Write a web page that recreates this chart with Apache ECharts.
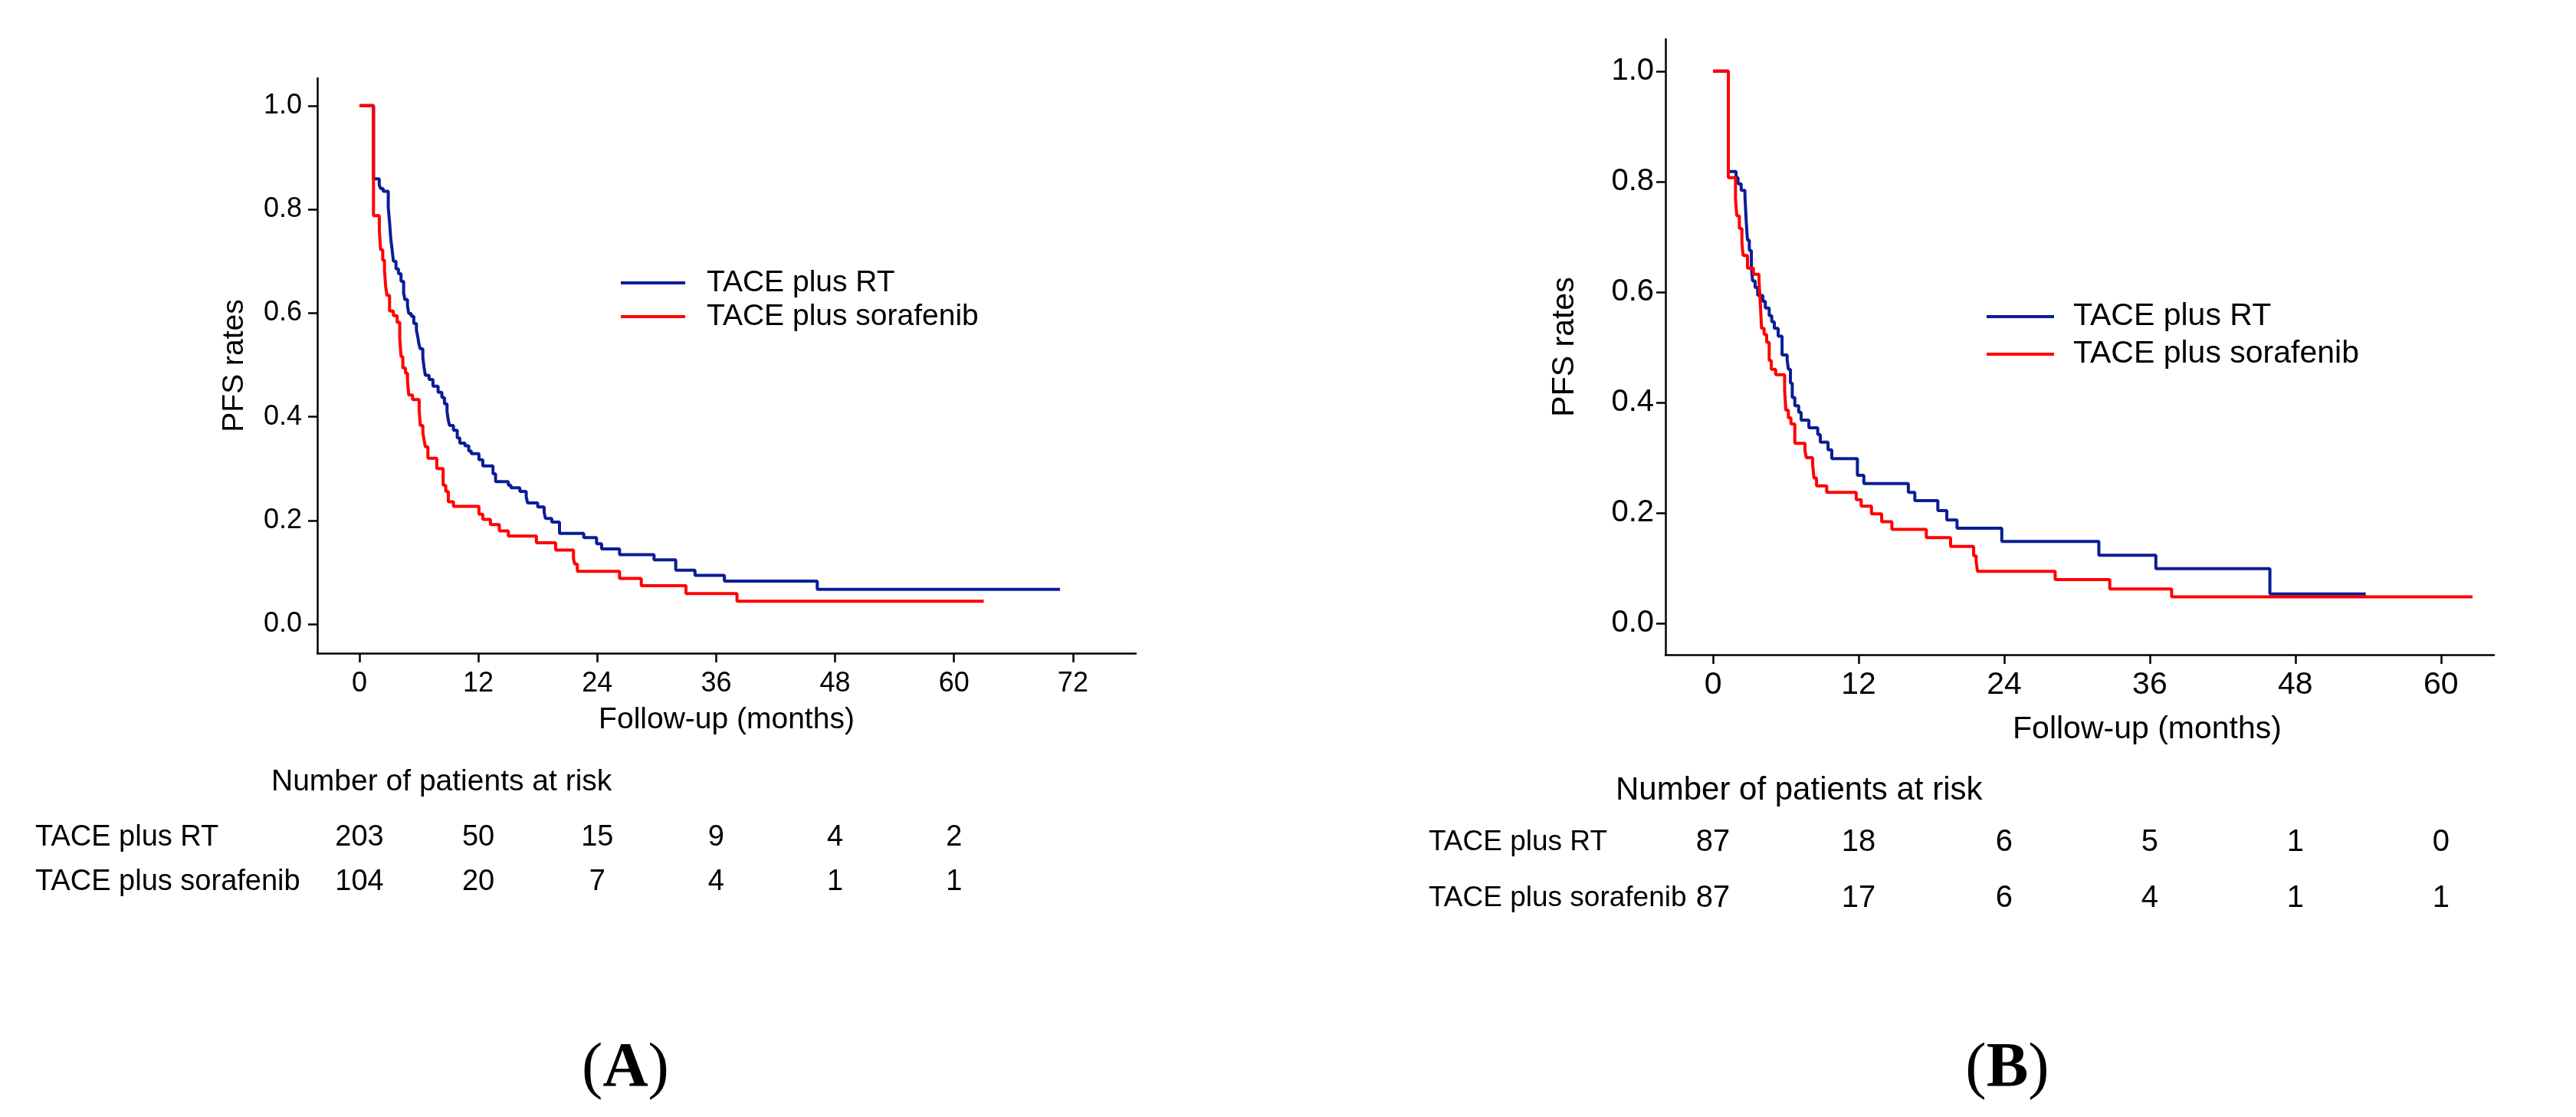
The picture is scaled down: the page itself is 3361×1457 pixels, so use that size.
<!DOCTYPE html>
<html><head><meta charset="utf-8">
<script src="https://cdn.jsdelivr.net/npm/echarts@6/dist/echarts.min.js"></script>
<style>html,body{margin:0;padding:0;background:#fff}#c{width:3361px;height:1457px}</style>
</head><body><div id="c"></div>
<script>
const seriesNames = ['TACE plus RT', 'TACE plus sorafenib'];
const xTicksA = [0, 12, 24, 36, 48, 60, 72];
const xTicksB = [0, 12, 24, 36, 48, 60];
const yTicks = [0, 0.2, 0.4, 0.6, 0.8, 1.0];

// Panel A: TACE plus RT
const aRtTime = [0, 1.42, 2.0, 2.15, 2.4, 2.91, 3.04, 3.17, 3.3, 3.43, 3.69, 3.94, 4.2, 4.46, 4.59, 4.85, 4.98, 5.23, 5.49, 5.75, 5.88, 6.01, 6.14, 6.4, 6.52, 6.65, 7.03, 7.42, 7.94, 8.32, 8.58, 8.84, 8.97, 9.1, 9.49, 9.87, 10.13, 10.65, 11.03, 11.29, 12.06, 12.45, 13.48, 13.74, 15.03, 15.29, 16.19, 16.83, 16.96, 17.99, 18.64, 18.77, 19.41, 20.19, 22.64, 23.93, 24.44, 26.25, 29.73, 31.92, 33.86, 36.83, 46.2, 70.7];
const aRtSurv = [1.0, 0.859, 0.847, 0.840, 0.835, 0.803, 0.776, 0.742, 0.722, 0.700, 0.685, 0.676, 0.661, 0.639, 0.626, 0.614, 0.599, 0.594, 0.580, 0.567, 0.555, 0.540, 0.531, 0.514, 0.496, 0.480, 0.472, 0.459, 0.447, 0.437, 0.425, 0.410, 0.393, 0.383, 0.374, 0.359, 0.349, 0.344, 0.334, 0.329, 0.317, 0.305, 0.290, 0.275, 0.268, 0.263, 0.256, 0.246, 0.234, 0.226, 0.216, 0.204, 0.197, 0.175, 0.167, 0.155, 0.145, 0.134, 0.124, 0.104, 0.094, 0.083, 0.067, 0.067];
// Panel A: TACE plus sorafenib
const aSorTime = [0, 1.42, 2.01, 2.14, 2.35, 2.53, 2.65, 2.78, 3.04, 3.43, 3.81, 4.07, 4.2, 4.38, 4.65, 4.85, 4.98, 5.36, 6.03, 6.14, 6.4, 6.52, 6.65, 6.91, 7.81, 8.45, 8.71, 8.97, 9.49, 12.06, 12.45, 13.22, 14.12, 15.03, 17.86, 19.8, 21.6, 21.73, 21.99, 26.25, 28.44, 32.95, 38.1, 63.0];
const aSorSurv = [1.0, 0.788, 0.759, 0.722, 0.702, 0.683, 0.651, 0.634, 0.604, 0.595, 0.582, 0.551, 0.516, 0.494, 0.484, 0.469, 0.442, 0.433, 0.413, 0.383, 0.369, 0.356, 0.342, 0.320, 0.300, 0.268, 0.256, 0.236, 0.227, 0.212, 0.202, 0.192, 0.180, 0.170, 0.157, 0.143, 0.126, 0.116, 0.102, 0.088, 0.074, 0.059, 0.044, 0.044];

// Panel B: TACE plus RT
const bRtTime = [0, 1.26, 1.9, 2.06, 2.32, 2.63, 2.74, 2.84, 2.99, 3.16, 3.26, 3.47, 3.68, 4.1, 4.31, 4.63, 4.84, 5.05, 5.37, 5.69, 6.11, 6.21, 6.38, 6.53, 6.74, 7.06, 7.26, 7.9, 8.63, 8.84, 9.48, 9.79, 11.9, 12.43, 16.1, 16.63, 18.53, 19.27, 20.11, 23.8, 31.8, 36.5, 45.9, 53.8];
const bRtSurv = [1.0, 0.818, 0.807, 0.796, 0.784, 0.773, 0.726, 0.694, 0.675, 0.645, 0.620, 0.608, 0.594, 0.583, 0.571, 0.557, 0.546, 0.534, 0.520, 0.486, 0.477, 0.460, 0.435, 0.409, 0.394, 0.382, 0.368, 0.354, 0.342, 0.328, 0.314, 0.298, 0.268, 0.253, 0.237, 0.222, 0.204, 0.187, 0.172, 0.148, 0.123, 0.099, 0.053, 0.053];
// Panel B: TACE plus sorafenib
const bSorTime = [0, 1.26, 1.85, 1.96, 2.17, 2.38, 2.48, 2.84, 3.33, 3.79, 3.9, 4.0, 4.21, 4.42, 4.63, 4.8, 5.16, 5.9, 6.0, 6.21, 6.42, 6.74, 7.58, 7.69, 8.21, 8.32, 8.53, 9.37, 11.8, 12.21, 13.06, 13.9, 14.74, 17.58, 19.58, 21.48, 21.69, 21.8, 28.2, 32.7, 37.8, 62.6];
const bSorSurv = [1.0, 0.807, 0.770, 0.738, 0.715, 0.689, 0.666, 0.643, 0.632, 0.620, 0.578, 0.534, 0.523, 0.509, 0.476, 0.460, 0.450, 0.423, 0.386, 0.372, 0.361, 0.326, 0.312, 0.300, 0.287, 0.263, 0.249, 0.237, 0.224, 0.212, 0.198, 0.184, 0.170, 0.155, 0.139, 0.122, 0.111, 0.094, 0.079, 0.062, 0.048, 0.048];

// Number at risk
const riskTimes = [0, 12, 24, 36, 48, 60];
const riskA_RT = [203, 50, 15, 9, 4, 2];
const riskA_Sor = [104, 20, 7, 4, 1, 1];
const riskB_RT = [87, 18, 6, 5, 1, 0];
const riskB_Sor = [87, 17, 6, 4, 1, 1];
const riskTitle = 'Number of patients at risk';
const panelLabels = ['A', 'B'];

const FONT = '"Liberation Sans", Arial, sans-serif';
const SERIF = '"Liberation Serif", "Times New Roman", serif';
const BLUE = '#0b1d96', RED = '#ff0000';

function zip(t, s) { return t.map((v, i) => [v, s[i]]); }

function xAxis(grid, min, max, ticks, fs, margin, nameGap, namePad, nameFs) {
  return {
    type: 'value', gridIndex: grid, min: min, max: max,
    axisLine: { onZero: false, lineStyle: { color: '#000', width: 2.5 } },
    axisTick: { customValues: ticks, length: 12, lineStyle: { color: '#000', width: 2.5 } },
    axisLabel: { customValues: ticks, fontSize: fs, color: '#000', fontFamily: FONT, margin: margin },
    splitLine: { show: false },
    name: 'Follow-up (months)', nameLocation: 'middle', nameGap: nameGap,
    nameTextStyle: { fontSize: nameFs, color: '#000', fontFamily: FONT, padding: namePad }
  };
}
function yAxis(grid, min, max, fs, margin, nameGap, nameFs) {
  return {
    type: 'value', gridIndex: grid, min: min, max: max,
    axisLine: { onZero: false, lineStyle: { color: '#000', width: 2.5 } },
    axisTick: { customValues: yTicks, length: 12, lineStyle: { color: '#000', width: 2.5 } },
    axisLabel: { customValues: yTicks, fontSize: fs, color: '#000', fontFamily: FONT, margin: margin,
      formatter: v => Number(v).toFixed(1) },
    splitLine: { show: false },
    name: 'PFS rates', nameLocation: 'middle', nameGap: nameGap,
    nameTextStyle: { fontSize: nameFs, color: '#000', fontFamily: FONT }
  };
}
function km(name, color, xi, data) {
  return { name: name, type: 'line', step: 'end', symbol: 'none', xAxisIndex: xi, yAxisIndex: xi,
    data: data, lineStyle: { color: color, width: 4 }, itemStyle: { color: color },
    animation: false, silent: true };
}

const chart = echarts.init(document.getElementById('c'), null, { width: 3361, height: 1457 });
chart.setOption({
  backgroundColor: '#fff',
  animation: false,
  grid: [
    { left: 414, top: 102, width: 1068, height: 750 },
    { left: 2173, top: 51, width: 1081, height: 803 }
  ],
  xAxis: [
    xAxis(0, -4.25, 78.35, xTicksA, 36, 22, 68, [0, 0, 0, 0], 39),
    xAxis(1, -3.92, 64.37, xTicksB, 41, 19, 77, [0, 0, 0, 176], 41)
  ],
  yAxis: [
    yAxis(0, -0.056, 1.053, 36, 20, 88, 39),
    yAxis(1, -0.057, 1.058, 40, 15, 111, 41)
  ],
  legend: [
    { left: 805, top: 344, orient: 'vertical', icon: 'rect', itemWidth: 84, itemHeight: 4, itemGap: 4,
      selectedMode: false, data: seriesNames,
      textStyle: { fontSize: 39, lineHeight: 40, color: '#000', fontFamily: FONT, padding: [0, 0, 0, 23] } },
    { left: 2587, top: 387, orient: 'vertical', icon: 'rect', itemWidth: 88, itemHeight: 4, itemGap: 7,
      selectedMode: false, data: seriesNames,
      textStyle: { fontSize: 41, lineHeight: 42, color: '#000', fontFamily: FONT, padding: [0, 0, 0, 20] } }
  ],
  series: [
    km(seriesNames[0], BLUE, 0, zip(aRtTime, aRtSurv)),
    km(seriesNames[1], RED, 0, zip(aSorTime, aSorSurv)),
    km(seriesNames[0], BLUE, 1, zip(bRtTime, bRtSurv)),
    km(seriesNames[1], RED, 1, zip(bSorTime, bSorSurv))
  ]
});

function txt(x, y, s, fs, align, family) {
  return { type: 'text', x: x, y: y, silent: true,
    style: { text: String(s), fontSize: fs, fontFamily: family || FONT, fill: '#000',
      align: align || 'left', verticalAlign: 'middle', textAlign: align || 'left', textVerticalAlign: 'middle' } };
}
const g = [];
// Risk table A
g.push(txt(354, 1020, riskTitle, 39));
g.push(txt(46, 1093, seriesNames[0], 38));
g.push(txt(46, 1151, seriesNames[1], 38));
riskTimes.forEach((t, i) => {
  const px = chart.convertToPixel({ xAxisIndex: 0 }, t);
  g.push(txt(px, 1093, riskA_RT[i], 38, 'center'));
  g.push(txt(px, 1151, riskA_Sor[i], 38, 'center'));
});
// Risk table B
g.push(txt(2108, 1031, riskTitle, 42));
g.push(txt(1864, 1099, seriesNames[0], 37));
g.push(txt(1864, 1172, seriesNames[1], 37));
riskTimes.forEach((t, i) => {
  const px = chart.convertToPixel({ xAxisIndex: 1 }, t);
  g.push(txt(px, 1099, riskB_RT[i], 40, 'center'));
  g.push(txt(px, 1172, riskB_Sor[i], 40, 'center'));
});
// Panel labels
[[816, panelLabels[0]], [2619, panelLabels[1]]].forEach(([x, l]) => {
  g.push({ type: 'text', x: x, y: 1395, silent: true,
    style: { text: '{p|(}{b|' + l + '}{p|)}', align: 'center', verticalAlign: 'middle',
      textAlign: 'center', textVerticalAlign: 'middle',
      rich: { p: { fontSize: 82, fontFamily: SERIF, fill: '#000', color: '#000' },
              b: { fontSize: 82, fontFamily: SERIF, fontWeight: 'bold', fill: '#000', color: '#000' } } } });
});
chart.setOption({ graphic: g });
</script>
</body></html>
